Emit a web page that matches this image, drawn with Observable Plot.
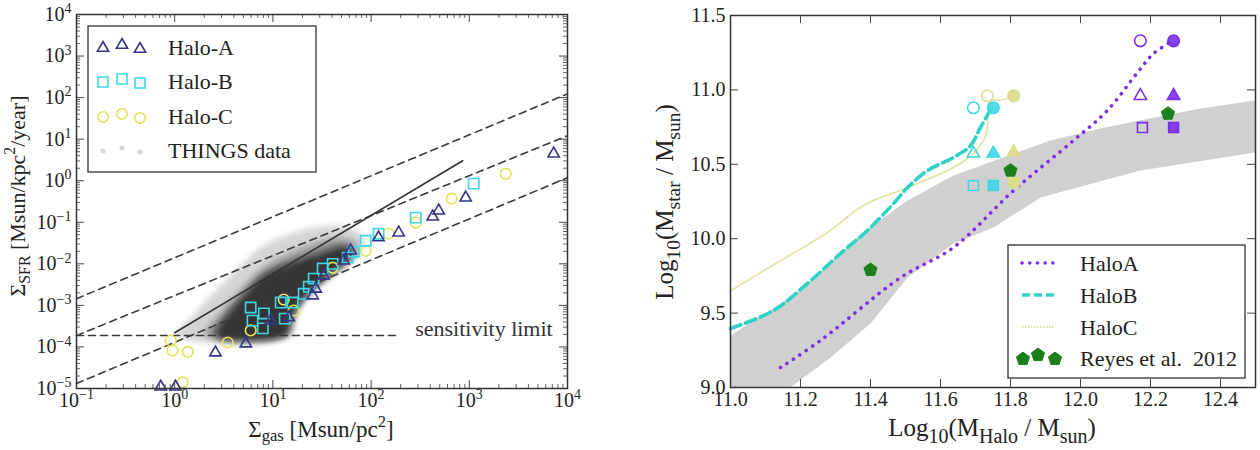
<!DOCTYPE html>
<html>
<head>
<meta charset="utf-8">
<script src="https://cdn.jsdelivr.net/npm/d3@7"></script>
<script src="https://cdn.jsdelivr.net/npm/@observablehq/plot@0.6"></script>
<style>
  html, body { margin: 0; padding: 0; background: #fff; }
  #wrap { position: relative; width: 1260px; height: 450px; overflow: hidden; background: #fff; }
  #wrap > svg { position: absolute; top: 0; }
  #wrap svg text { font-family: 'Liberation Serif', 'DejaVu Serif', serif; }
</style>
</head>
<body>
<div id="wrap"></div>
<script>
// ---------------- Left panel: Kennicutt–Schmidt relation ----------------
// Σgas [Msun/pc²] and ΣSFR [Msun/kpc²/year] of the three simulated haloes
const haloA_gas = [0.72, 1.02, 2.6, 5.3, 9.5, 14.5, 25.4, 27.3, 32.9, 52.6, 62, 119, 191, 424, 488, 918, 7230];
const haloA_sfr = [1.1e-5, 1.1e-5, 7.3e-5, 1.2e-4, 4.3e-4, 5.1e-4, 1.72e-3, 2.5e-3, 5.2e-3, 1.19e-2, 2.07e-2, 4.3e-2, 5.6e-2, 0.136, 0.19, 0.39, 4.46];

const haloB_gas = [5.94, 6.2, 8.1, 7.9, 12, 13.2, 15.9, 20.6, 23.2, 26, 32.1, 40.6, 57.8, 66.5, 88, 119, 285, 1109];
const haloB_sfr = [8.9e-4, 4.3e-4, 6.4e-4, 2.8e-4, 1.17e-3, 4.8e-4, 1.17e-3, 1.9e-3, 2.8e-3, 4.4e-3, 7.7e-3, 1.0e-2, 1.41e-2, 1.96e-2, 3.6e-2, 5.3e-2, 0.129, 0.85];

const haloC_gas = [0.91, 0.95, 1.36, 1.2, 3.47, 5.94, 12.9, 16.3, 40.6, 88, 151, 285, 662, 2350];
const haloC_sfr = [1.43e-4, 8.2e-5, 7.6e-5, 1.4e-5, 1.28e-4, 2.5e-4, 1.38e-3, 7.5e-4, 8.1e-3, 2.07e-2, 5.3e-2, 9.8e-2, 0.37, 1.47];

// THINGS observations, drawn as a density cloud: outer, middle and core contours [Σgas, ΣSFR]
const thingsOuter = [[1.05, 1.88e-4], [1.64, 6.7e-4], [2.62, 2.27e-3], [4.7, 9.1e-3], [7.9, 2.7e-2], [15.2, 5.3e-2], [30.7, 7.8e-2], [55, 7.8e-2], [78, 5.3e-2], [84, 2.45e-2], [65, 1.19e-2], [38.8, 4.66e-3], [23.2, 1.63e-3], [15.9, 5.4e-4], [13.2, 1.88e-4]];
const thingsMid = [[2.07, 1.88e-4], [3.08, 7.5e-4], [4.7, 2.27e-3], [7.5, 6.9e-3], [13.5, 1.57e-2], [27.3, 3.06e-2], [49, 4.04e-2], [69.7, 3.24e-2], [68, 1.57e-2], [43.6, 6.9e-3], [25.4, 2.27e-3], [17.5, 7.5e-4], [14.5, 1.88e-4]];
const thingsCore = [[2.6, 1.88e-4], [3.55, 6.7e-4], [5.3, 2.03e-3], [7.9, 5.2e-3], [15.2, 1.07e-2], [30.7, 1.86e-2], [55, 2.6e-2], [65, 1.76e-2], [49, 8.6e-3], [29.3, 3.3e-3], [19.2, 1.17e-3], [15.2, 3.9e-4], [13.8, 1.88e-4]];

// constant-efficiency (slope 1) reference lines, Kennicutt law and sensitivity limit
const effGas = [0.1, 1e4];
const effHigh = [1.45e-3, 1.23e2];
const effMid = [1.88e-4, 12.1];
const effLow = [1.32e-5, 1.18];
const ksGas = [1.0, 857];
const ksSfr = [2.2e-4, 3.03];
const sensGas = [0.1, 180];
const sensSfr = [1.88e-4, 1.88e-4];
const sensLabel = {gas: 7.07e3, sfr: 2.77e-4, text: "sensitivity limit"};

// axis ticks
const leftXTicks = [1e-1, 1e0, 1e1, 1e2, 1e3, 1e4];
const leftYTicks = [1e-5, 1e-4, 1e-3, 1e-2, 1e-1, 1e0, 1e1, 1e2, 1e3, 1e4];

// ---------------- Right panel: stellar mass – halo mass ----------------
// log10 M_halo and log10 M_star along each halo's growth track
const trackA_halo = [11.143, 11.257, 11.486, 11.637, 11.809, 11.98, 12.077, 12.163, 12.209, 12.265];
const trackA_star = [9.134, 9.316, 9.739, 9.941, 10.324, 10.66, 10.862, 11.117, 11.245, 11.332];
const trackB_halo = [11.0, 11.123, 11.22, 11.314, 11.391, 11.466, 11.506, 11.563, 11.637, 11.686, 11.714, 11.743, 11.751];
const trackB_star = [9.397, 9.517, 9.699, 9.9, 10.055, 10.237, 10.344, 10.458, 10.546, 10.626, 10.747, 10.862, 10.88];
const trackC_halo = [11.0, 11.134, 11.277, 11.38, 11.506, 11.637, 11.694, 11.729, 11.737, 11.743, 11.77, 11.809];
const trackC_star = [9.65, 9.84, 10.042, 10.223, 10.344, 10.479, 10.573, 10.694, 10.848, 10.929, 10.93, 10.96];

// final-state estimates for each halo: [log M_halo, log M_star, symbol, filled]
const finalA = [[12.171, 11.33, "circle", false], [12.266, 11.33, "circle", true],
                [12.171, 10.96, "triangle", false], [12.266, 10.96, "triangle", true],
                [12.177, 10.747, "square", false], [12.266, 10.747, "square", true]];
const finalB = [[11.694, 10.88, "circle", false], [11.751, 10.88, "circle", true],
                [11.694, 10.573, "triangle", false], [11.751, 10.573, "triangle", true],
                [11.694, 10.357, "square", false], [11.751, 10.357, "square", true]];
const finalC = [[11.734, 10.96, "circle", false], [11.809, 10.96, "circle", true],
                [11.809, 10.58, "triangle", true], [11.809, 10.378, "square", true]];

// Reyes et al. 2012 measurements
const reyesHalo = [11.4, 11.8, 12.25];
const reyesStar = [9.79, 10.458, 10.84];

// abundance-matching band: upper and lower edges
const bandUpper = [[11.0, 9.35], [11.2, 9.65], [11.386, 10.055], [11.506, 10.257], [11.637, 10.425], [11.771, 10.539], [11.914, 10.66], [12.057, 10.74], [12.2, 10.81], [12.343, 10.875], [12.5, 10.93]];
const bandLower = [[11.0, 8.69], [11.171, 9.0], [11.286, 9.202], [11.4, 9.43], [11.506, 9.739], [11.637, 9.968], [11.751, 10.075], [11.886, 10.277], [12.171, 10.458], [12.5, 10.58]];

const rightXTicks = [11.0, 11.2, 11.4, 11.6, 11.8, 12.0, 12.2, 12.4];
const rightYTicks = [9.0, 9.5, 10.0, 10.5, 11.0, 11.5];

// ---------------- styling ----------------
const FONT = "'Liberation Serif', 'DejaVu Serif', serif";
const colA = "#35358c", colB = "#3fd6e6", colC = "#e4e45c";
const purple = "#7a2fe6", turq = "#2fd3c6", paleC = "#e2e2a0", markC = "#dcdc88", green = "#1b7f1b";

const pts = (xs, ys) => xs.map((x, i) => ({x, y: ys[i]}));
const pairs = a => a.map(([x, y]) => ({x, y}));

const SUP = {"-": "⁻", "0": "⁰", "1": "¹", "2": "²", "3": "³", "4": "⁴", "5": "⁵", "6": "⁶", "7": "⁷", "8": "⁸", "9": "⁹"};
const UNSUP = Object.fromEntries(Object.entries(SUP).map(([k, v]) => [v, k]));
const powTen = d => "10" + String(Math.round(Math.log10(d))).replace(/./g, c => SUP[c]);

function minorDecades(lo, hi) {
  const out = [];
  for (let k = lo; k < hi; ++k) for (let m = 2; m <= 9; ++m) out.push(m * Math.pow(10, k));
  return out;
}

// frame ticks pointing inward on all four sides
function frameTicks(xs, ys, innerW, innerH, len, color) {
  const o = {stroke: color, strokeWidth: 1};
  return [
    Plot.tickX(xs, {x: d => d, insetTop: innerH - len, ...o}),
    Plot.tickX(xs, {x: d => d, insetBottom: innerH - len, ...o}),
    Plot.tickY(ys, {y: d => d, insetRight: innerW - len, ...o}),
    Plot.tickY(ys, {y: d => d, insetLeft: innerW - len, ...o})
  ];
}

// text with sub/superscripts; parts = [[string, "n" | "sub" | "sup"]]
function richText(sel, parts, size, scale = 0.72, subShift = 0.3, supShift = 0.45) {
  let cur = 0;
  for (const [str, kind] of parts) {
    const target = kind === "sub" ? subShift * size : kind === "sup" ? -supShift * size : 0;
    const ts = sel.append("tspan").text(str).attr("dy", (target - cur) + "px");
    if (kind !== "n") ts.attr("font-size", (size * scale) + "px");
    cur = target;
  }
  return sel;
}

// ---------------- left plot ----------------
const LW = 630, LH = 450;
const LM = {left: 76, right: 63, top: 14, bottom: 62};
const LiW = LW - LM.left - LM.right, LiH = LH - LM.top - LM.bottom;

const cloud = (ring, op) => Plot.line(pairs(ring), {
  x: "x", y: "y", fill: "#111", fillOpacity: op, stroke: "none",
  curve: "catmull-rom-closed"
});
const dash = (xs, ys) => Plot.line(pts(xs, ys), {x: "x", y: "y", stroke: "#3a3a3a", strokeWidth: 1.6, strokeDasharray: "7,5"});

const leftSvg = Plot.plot({
  width: LW, height: LH,
  marginLeft: LM.left, marginRight: LM.right, marginTop: LM.top, marginBottom: LM.bottom,
  x: {type: "log", domain: [1e-1, 1e4], label: null},
  y: {type: "log", domain: [1e-5, 1e4], label: null},
  style: {fontFamily: FONT, fontSize: "20px", color: "#222", background: "#fff", overflow: "visible"},
  marks: [
    cloud(thingsOuter, 0.17),
    cloud(thingsMid, 0.35),
    cloud(thingsCore, 0.72),
    dash(effGas, effHigh),
    dash(effGas, effMid),
    dash(effGas, effLow),
    dash(sensGas, sensSfr),
    Plot.line(pts(ksGas, ksSfr), {x: "x", y: "y", stroke: "#333", strokeWidth: 1.6}),
    Plot.text([sensLabel], {x: "gas", y: "sfr", text: "text", textAnchor: "end", fontSize: 22, fill: "#333"}),
    Plot.dot(pts(haloC_gas, haloC_sfr), {x: "x", y: "y", symbol: "circle", r: 5.3, stroke: colC, strokeWidth: 1.6, fill: "none"}),
    Plot.dot(pts(haloB_gas, haloB_sfr), {x: "x", y: "y", symbol: "square", r: 5.8, stroke: colB, strokeWidth: 1.6, fill: "none"}),
    Plot.dot(pts(haloA_gas, haloA_sfr), {x: "x", y: "y", symbol: "triangle", r: 4.2, stroke: colA, strokeWidth: 1.6, fill: "none"}),
    ...frameTicks(leftXTicks, leftYTicks, LiW, LiH, 8, "#444"),
    ...frameTicks(minorDecades(-1, 4), minorDecades(-5, 4), LiW, LiH, 4, "#666"),
    Plot.frame({stroke: "#333", strokeWidth: 1.5}),
    Plot.axisX({ticks: leftXTicks, tickFormat: powTen, tickSize: 0, tickPadding: 4, label: null}),
    Plot.axisY({ticks: leftYTicks, tickFormat: powTen, tickSize: 0, tickPadding: 5, label: null})
  ]
});

// ---------------- right plot ----------------
const RW = 630, RH = 450;
const RM = {left: 100, right: 5, top: 15, bottom: 63};
const RiW = RW - RM.left - RM.right, RiH = RH - RM.top - RM.bottom;

const pentagon = {
  draw(ctx, size) {
    const r = Math.sqrt(size / (2.5 * Math.sin(2 * Math.PI / 5)));
    for (let i = 0; i < 5; ++i) {
      const a = -Math.PI / 2 + i * 2 * Math.PI / 5;
      const px = r * Math.cos(a), py = r * Math.sin(a);
      i ? ctx.lineTo(px, py) : ctx.moveTo(px, py);
    }
    ctx.closePath();
  }
};

const finals = (rows, color) => {
  const data = rows.map(([x, y, s, f]) => ({x, y, s, f}));
  const rOf = s => s === "triangle" ? 4.6 : s === "square" ? 5.6 : 5.8;
  return ["circle", "triangle", "square"].flatMap(s => [false, true].map(f =>
    Plot.dot(data.filter(d => d.s === s && d.f === f), {
      x: "x", y: "y", symbol: s, r: rOf(s), stroke: color, strokeWidth: 1.6,
      fill: f ? color : "none", fillOpacity: f ? 0.9 : 1
    })));
};

const bandRing = pairs(bandUpper.concat(bandLower.slice().reverse()));

const rightSvg = Plot.plot({
  width: RW, height: RH,
  marginLeft: RM.left, marginRight: RM.right, marginTop: RM.top, marginBottom: RM.bottom,
  x: {domain: [11.0, 12.5], label: null},
  y: {domain: [9.0, 11.5], label: null},
  style: {fontFamily: FONT, fontSize: "20px", color: "#222", background: "#fff", overflow: "visible"},
  marks: [
    Plot.line(bandRing, {x: "x", y: "y", fill: "#d0d0d0", stroke: "none", curve: "linear-closed", clip: true}),
    Plot.line(pts(trackC_halo, trackC_star), {x: "x", y: "y", stroke: paleC, strokeWidth: 1.8, strokeDasharray: "1.5,1.5", curve: "catmull-rom"}),
    Plot.line(pts(trackB_halo, trackB_star), {x: "x", y: "y", stroke: turq, strokeWidth: 3.6, strokeDasharray: "11,5", curve: "catmull-rom"}),
    Plot.line(pts(trackA_halo, trackA_star), {x: "x", y: "y", stroke: purple, strokeWidth: 3.6, strokeDasharray: "0.1,7.6", strokeLinecap: "round", curve: "catmull-rom"}),
    ...finals(finalC, markC),
    ...finals(finalB, colB),
    ...finals(finalA, purple),
    Plot.dot(pts(reyesHalo, reyesStar), {x: "x", y: "y", symbol: pentagon, r: 6, fill: green, stroke: green, strokeWidth: 1}),
    ...frameTicks(rightXTicks, rightYTicks, RiW, RiH, 8, "#444"),
    Plot.frame({stroke: "#333", strokeWidth: 1.5}),
    Plot.axisX({ticks: rightXTicks, tickFormat: d3.format(".1f"), tickSize: 0, tickPadding: 4, label: null}),
    Plot.axisY({ticks: rightYTicks, tickFormat: d3.format(".1f"), tickSize: 0, tickPadding: 5, label: null})
  ]
});

// ---------------- assemble ----------------
const wrap = document.getElementById("wrap");
leftSvg.style.left = "0px";
rightSvg.style.left = "630px";
wrap.append(leftSvg, rightSvg);

const L = d3.select(leftSvg), R = d3.select(rightSvg);
L.attr("font-family", FONT);
R.attr("font-family", FONT);

// soften the THINGS point cloud (the first three line marks) with a gaussian blur
L.insert("defs", ":first-child").append("filter")
  .attr("id", "cloud-blur").attr("filterUnits", "userSpaceOnUse")
  .attr("x", 0).attr("y", 0).attr("width", LW).attr("height", LH)
  .append("feGaussianBlur").attr("stdDeviation", 3);
L.selectAll('g[aria-label="line"]').filter((d, i) => i < 3).attr("filter", "url(#cloud-blur)");

// powers of ten with raised exponents
L.selectAll('g[aria-label$="tick label"] text').each(function () {
  const m = this.textContent.match(/^10(.+)$/);
  if (!m) return;
  const exp = [...m[1]].map(c => UNSUP[c] ?? c).join("").replace("-", "−");
  const s = d3.select(this).text(null);
  s.append("tspan").text("10");
  s.append("tspan").attr("font-size", "14px").attr("dy", "-0.55em").text(exp);
});

// axis titles
richText(L.append("text").attr("transform", "translate(25,196) rotate(-90)")
  .attr("text-anchor", "middle").attr("font-size", "22px").attr("fill", "#222"),
  [["Σ", "n"], ["SFR", "sub"], [" [Msun/kpc", "n"], ["2", "sup"], ["/year]", "n"]], 22, 0.72, 0.22);
richText(L.append("text").attr("x", 321).attr("y", 437)
  .attr("text-anchor", "middle").attr("font-size", "23px").attr("fill", "#222"),
  [["Σ", "n"], ["gas", "sub"], [" [Msun/pc", "n"], ["2", "sup"], ["]", "n"]], 23, 0.72, 0.18);
richText(R.append("text").attr("transform", "translate(43,202) rotate(-90)")
  .attr("text-anchor", "middle").attr("font-size", "25px").attr("fill", "#222"),
  [["Log", "n"], ["10", "sub"], ["(M", "n"], ["star", "sub"], [" / M", "n"], ["sun", "sub"], [")", "n"]], 25, 0.78, 0.28);
richText(R.append("text").attr("x", 362).attr("y", 436)
  .attr("text-anchor", "middle").attr("font-size", "25px").attr("fill", "#222"),
  [["Log", "n"], ["10", "sub"], ["(M", "n"], ["Halo", "sub"], [" / M", "n"], ["sun", "sub"], [")", "n"]], 25, 0.8, 0.28);

// ---------------- legends ----------------
const sym = (type, size) => d3.symbol(type, size)();
{
  const g = L.append("g").attr("font-size", "22px").attr("fill", "#222").attr("text-anchor", "start");
  g.append("rect").attr("x", 88).attr("y", 26).attr("width", 228).attr("height", 146)
    .attr("fill", "#fff").attr("stroke", "#333").attr("stroke-width", 1.3);
  const xs = [103, 122, 140], yo = [1, -2, 2];
  const rows = [
    {label: "Halo-A", y: 47, d: sym(d3.symbolTriangle, 55), stroke: colA, fill: "none"},
    {label: "Halo-B", y: 81, d: sym(d3.symbolSquare, 100), stroke: colB, fill: "none"},
    {label: "Halo-C", y: 116, d: sym(d3.symbolCircle, 85), stroke: colC, fill: "none"},
    {label: "THINGS data", y: 150, d: sym(d3.symbolCircle, 20), stroke: "none", fill: "#d6d6d6"}
  ];
  for (const r of rows) {
    xs.forEach((x, i) => g.append("path").attr("d", r.d)
      .attr("transform", `translate(${x},${r.y + yo[i]})`)
      .attr("fill", r.fill).attr("stroke", r.stroke).attr("stroke-width", 1.6));
    g.append("text").attr("x", 168).attr("y", r.y).attr("dy", "0.35em").attr("text-anchor", "start").text(r.label);
  }
}
{
  const g = R.append("g").attr("font-size", "22px").attr("fill", "#222").attr("text-anchor", "start");
  g.append("rect").attr("x", 378).attr("y", 245).attr("width", 237).attr("height", 133)
    .attr("fill", "#fff").attr("stroke", "#333").attr("stroke-width", 1.3);
  const rows = [
    {label: "HaloA", y: 263, stroke: purple, w: 3.6, dash: "0.1,7.6", cap: "round"},
    {label: "HaloB", y: 295, stroke: turq, w: 3.6, dash: "8,4", cap: "butt"},
    {label: "HaloC", y: 327, stroke: paleC, w: 1.8, dash: "1.5,1.5", cap: "butt"},
    {label: "Reyes et al.  2012", y: 358}
  ];
  for (const r of rows) {
    if (r.stroke) {
      g.append("line").attr("x1", 392).attr("x2", 424).attr("y1", r.y).attr("y2", r.y)
        .attr("stroke", r.stroke).attr("stroke-width", r.w).attr("stroke-dasharray", r.dash)
        .attr("stroke-linecap", r.cap);
    } else {
      [[393, 1], [408, -3], [425, 1]].forEach(([x, dy]) => g.append("path")
        .attr("d", sym(pentagon, 113)).attr("transform", `translate(${x},${r.y + dy})`)
        .attr("fill", green).attr("stroke", green));
    }
    g.append("text").attr("x", 450).attr("y", r.y).attr("dy", "0.35em").attr("text-anchor", "start")
      .style("white-space", "pre").text(r.label);
  }
}
</script>
</body>
</html>
